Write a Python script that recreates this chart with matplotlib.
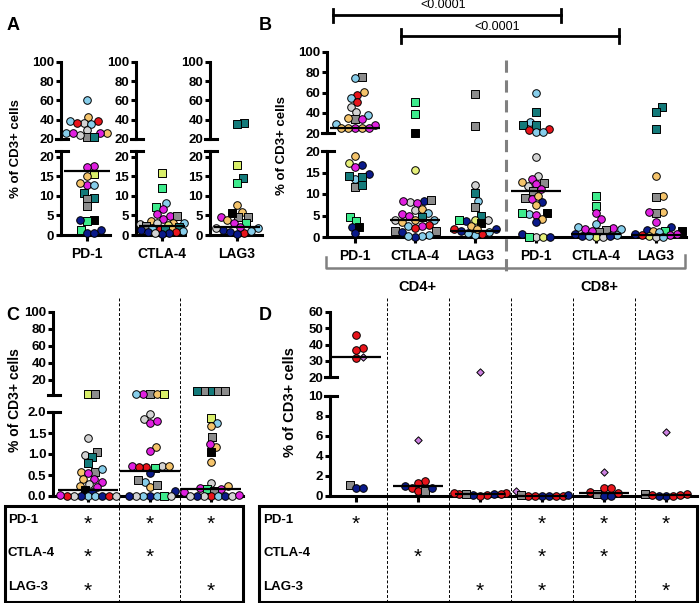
import numpy as np
import matplotlib.pyplot as plt
from matplotlib.lines import Line2D
from matplotlib.patches import Rectangle

plt.rcParams['font.family'] = ['Liberation Sans', 'DejaVu Sans']
plt.rcParams['font.weight'] = 'bold'

W, H = 700, 603

# donor codes -> (marker, face colour)
kind_style = {
    'lb': ('o', '#87CEEB'), 'r': ('o', '#E8141B'), 'm': ('o', '#E020E0'),
    'o': ('o', '#F5C46B'), 'lg': ('o', '#D3D3D3'), 'n': ('o', '#0A1A8A'),
    'y': ('o', '#E6F07A'), 'gs': ('s', '#8C8C8C'), 'ts': ('s', '#137A7A'),
    'es': ('s', '#3DEB8C'), 'ys': ('s', '#D9EF6A'), 'ks': ('s', '#000000'),
    'pd': ('D', '#CC80E0'),
}

markers_ab = ['PD-1', 'CTLA-4', 'LAG3']
table_rows = ['PD-1', 'CTLA-4', 'LAG-3']

# ---- panel A: % of CD3+ cells
a_pd1_val = [61, 43, 38.7, 38.7, 37, 35.6, 37, 26.5, 26.5, 29.4, 26, 22, 22, 24, 26,
             17.6, 17.3, 15.6, 15, 12.8, 13.3, 12.8, 10.8, 9.4, 9.2, 7.4, 3.8, 3.6, 3.8, 1.3, 1.3, 0.5, 0.5]
a_pd1_kind = ('lb o r lb lg lb r o lb lg m gs ts lg m '
              'm m ys o m o lb ts ts gs gs ks es n es n n n').split()
a_ctla4_val = [15.9, 12, 8.2, 7.2, 6.6, 5.4, 4.8, 4.8, 4.2, 3.5, 3.1, 3.0, 3.0, 2.8, 2.5, 2.3,
               2.0, 1.8, 1.6, 1.5, 1.3, 1.2, 1.0, 0.8, 0.5, 0.3, 0.8, 0.6]
a_ctla4_kind = ('ys es lb es m m m gs m o o lg lb lg y gs ts lb o r '
                'ts n lb r n n n lg').split()
a_lag3_val = [37, 36, 18, 14.5, 13.3, 7.6, 5.9, 4.7, 4.5, 5.7, 4.7, 3.8, 3.0, 3.0, 1.9, 1.3,
              0.8, 0.5, 1.9, 2.0, 0.3, 1.0]
a_lag3_kind = 'ts ts ys ts es o o gs gs ks m o m es lb n n r lg m n lb'.split()
a_medians = [16.5, 2.2, 2.0]

# ---- panel B: CD4+ then CD8+
b_cd4_pd1_val = [75.6, 74, 60.2, 57.5, 54.3, 50.3, 46, 40.7, 37.5, 33.8, 35, 33.8, 28.9, 28.2,
                 24.6, 24.6, 24.6, 24.6, 24.6,
                 18.8, 16.7, 17.1, 16.2, 14.7, 13.4, 14.2, 13.9, 11.7, 12, 4.6, 3.8, 2.4, 2.3, 0.9]
b_cd4_pd1_kind = ('gs lb o r lb r lg lg lb gs o m lb m m o o m o '
                  'o n y m n lb ts ts gs ts es es n ks n').split()
b_cd4_ctla4_val = [50.3, 38.8, 20.3, 15.6, 8.4, 8.2, 7.9, 8.5, 8.4, 6.3, 6.5, 5.5, 5.3, 4.7, 5.0,
                   4.0, 4.0, 4.0, 3.5, 2.8, 2.6, 2.5, 2.0, 1.4, 1.3, 1.1, 0.5, 0.2, 0.1, 0.3]
b_cd4_ctla4_kind = ('es es ks y n lg m gs m lg o lb m ts m o lb lg o r '
                    'lb m r gs gs n lb lb n lb').split()
b_cd4_lag3_val = [58.5, 26.9, 12.2, 10.3, 8.4, 6.9, 5.0, 4.0, 4.0, 3.3, 3.8, 4.0, 2.6, 1.8, 1.2,
                  1.8, 0.7, 0.5, 1.0, 1.5, 1.9]
b_cd4_lag3_kind = 'gs gs lg ts lb gs ts y lg ks n es o n lb r r lb lb n o'.split()
b_cd8_pd1_val = [59.2, 40.4, 30.9, 27.6, 27.6, 24.2, 23, 20.7, 20.7,
                 18.5, 14.3, 13.6, 12.6, 11.9, 12.3, 12.9, 11.1, 10.8, 9.1, 8.8, 9.6, 8.1, 7.4,
                 5.4, 5.5, 5.2, 5.5, 4.2, 3.5, 0.7, 0.1, 0.1, 0.1, 0.1]
b_cd8_pd1_kind = ('lb ts lb ts ts r r lb lb '
                  'lg lg m gs lg m o m gs gs m o n o lb ks m es o n n lg y es n').split()
b_cd8_ctla4_val = [9.6, 7.3, 5.5, 4.2, 3.1, 2.4, 2.0, 1.8, 1.7, 1.8, 1.2, 0.8, 1.5, 0.5, 0.3,
                   0.1, 0.1, 0.2, 0.2]
b_cd8_ctla4_kind = 'es es m m lb lb m m gs lb gs n m lb n y lg lb n'.split()
b_cd8_lag3_val = [45.4, 40.7, 23.6, 14.3, 9.6, 9.2, 5.9, 5.5, 5.9, 3.4, 2.3, 1.7, 1.3, 1.3, 1.2,
                  1.3, 0.7, 0.7, 0.5, 0.2, 0.1, 0.1, 0.5]
b_cd8_lag3_kind = 'ts ts ts o o gs o gs m m n n o es lb ks m n m y lg lb r'.split()
b_medians = [25, 3.9, 1.3, 10.8, 0.6, 0.4]

# ---- panel C: co-expression combinations
c1_val = [3.2, 3.2, 1.37, 1.04, 0.98, 0.92, 0.78, 0.58, 0.58, 0.54, 0.64, 0.40, 0.40, 0.34,
          0.29, 0.25, 0.22, 0.14, 0.10, 0, 0, 0, 0, 0, 0, 0, 0.02, 0]
c1_kind = ('ys gs lg gs lg ts ts gs o m lb o m m lg o m ks n lb '
           'lb n n lg r r m lg').split()
c2_val = [3.2, 3.2, 3.2, 3.2, 3.2, 1.83, 1.95, 1.73, 1.79, 1.17, 1.08, 0.72, 0.71, 0.69, 0.66,
          0.70, 0.72, 0.55, 0.34, 0.22, 0.26, 0.37, 0.13, 0, 0, 0, 0, 0, 0, 0]
c2_kind = ('gs o m ys lb lg lg m m o m m lg r es r o n lb o '
           'gs gs n n lb lb es lg lg n').split()
c3_val = [7, 7, 7, 7, 7, 1.85, 1.75, 1.67, 1.41, 1.17, 1.25, 1.05, 0.82, 0.30, 0.24, 0.18,
          0.16, 0.16, 0.13, 0.10, 0, 0, 0, 0, 0, 0, 0, 0.03]
c3_kind = ('ts gs gs gs ts ys lb o gs o m ks o lg o m es m gs m '
           'r lb lg n n lg lg m').split()
c_medians = [0.15, 0.6, 0.17]
c_stars = [[1, 1, 1], [1, 1, 0], [1, 0, 1]]

# ---- panel D
d1_val = [45.8, 37.8, 36.6, 32.3, 31.8, 1.1, 0.8, 0.8]
d1_kind = 'r r r pd r gs n n'.split()
d2_val = [5.6, 1.5, 1.3, 1.0, 0.77, 0.5, 0.5, 0.8]
d2_kind = 'pd r r n r r gs n'.split()
d3_val = [23, 0.3, 0.25, 0.2, 0.1, 0, 0.1, 0.2, 0.3, 0.2]
d3_kind = 'pd r r n r r n gs r r'.split()
d4_val = [0.5, 0, 0, 0, 0, 0, 0, 0.1, 0.1]
d4_kind = 'pd n n r r r r gs n'.split()
d5_val = [2.4, 0.8, 0.4, 0.8, 0.3, 0.2, 0, 0]
d5_kind = 'pd r r r r gs n n'.split()
d6_val = [6.4, 0.2, 0.2, 0, 0, 0, 0.1, 0.1]
d6_kind = 'pd r gs n r n r r'.split()
d_medians = [32.5, 1.0, 0.2, 0.05, 0.3, 0.1]
d_stars = [[1, 0, 0, 1, 1, 1], [0, 1, 0, 1, 1, 0], [0, 0, 1, 1, 0, 1]]

fig = plt.figure(figsize=(W / 100, H / 100), dpi=100)


def add_ax(x0, y0, x1, y1):
    return fig.add_axes([x0 / W, 1 - y1 / H, (x1 - x0) / W, (y1 - y0) / H])


def px_line(xs, ys, **kw):
    fig.add_artist(Line2D([x / W for x in xs], [1 - y / H for y in ys],
                          transform=fig.transFigure, **kw))


def px_text(x, y, s, **kw):
    fig.text(x / W, 1 - y / H, s, **kw)


def fig_x(ax, x):
    return fig.transFigure.inverted().transform(ax.transData.transform((x, 0)))[0] * W


def broken_axes(x0, x1, top_y, bot_y, top_lim, bot_lim, xlim, top_ticks, bot_ticks, fmt='{:g}'):
    ax_t = add_ax(x0, top_y[0], x1, top_y[1])
    ax_b = add_ax(x0, bot_y[0], x1, bot_y[1])
    for ax, lim, ticks in ((ax_t, top_lim, top_ticks), (ax_b, bot_lim, bot_ticks)):
        ax.set_xlim(*xlim)
        ax.set_ylim(*lim)
        ax.set_facecolor('none')
        ax.spines['top'].set_visible(False)
        ax.spines['right'].set_visible(False)
        ax.spines['left'].set_linewidth(2.2)
        ax.set_yticks(ticks)
        ax.set_yticklabels([fmt.format(t) for t in ticks])
        ax.tick_params(axis='y', direction='out', length=3.8, width=2.2, labelsize=9.5, pad=1)
    ax_t.spines['bottom'].set_visible(False)
    ax_t.set_xticks([])
    ax_b.spines['bottom'].set_linewidth(2.2)
    ax_b.tick_params(axis='x', direction='out', length=4.5, width=2.2, labelsize=10, pad=4)
    # caps at the axis break
    px_line([x0 - 5, x0 + 7], [top_y[1], top_y[1]], color='black', lw=2.2)
    px_line([x0 - 5, x0 + 7], [bot_y[0], bot_y[0]], color='black', lw=2.2)
    return ax_t, ax_b


def swarm(ax, xc, vals, d=7.0, maxw=24):
    x0, x1 = ax.get_xlim()
    y0, y1 = ax.get_ylim()
    sx = ax.bbox.width / (x1 - x0)
    sy = ax.bbox.height / (y1 - y0)
    ys = np.asarray(vals, float) * sy
    cands = [0.0]
    for k in np.arange(0.5, maxw + 0.01, 0.5):
        cands += [k, -k]
    placed = []
    xs = np.zeros(len(ys))
    for i in np.argsort(ys, kind='stable'):
        best, best_ov = 0.0, 1e9
        for c in cands:
            ov = max([d - np.hypot(c - px, ys[i] - py) for px, py in placed] + [0])
            if ov <= 0:
                best = c
                break
            if ov < best_ov - 0.3:
                best, best_ov = c, ov
        xs[i] = best
        placed.append((best, ys[i]))
    return xc + xs / sx


def plot_group(ax_t, ax_b, xc, vals, kinds, split, med, hw_px=24, maxw=24):
    vals = np.asarray(vals, float)
    kinds = np.asarray(kinds)
    for ax, sel in ((ax_t, vals >= split), (ax_b, vals < split)):
        if not sel.any():
            continue
        xs = swarm(ax, xc, vals[sel], maxw=maxw)
        for x, v, k in zip(xs, vals[sel], kinds[sel]):
            mk, col = kind_style[k]
            size = {'o': 30, 's': 26, 'D': 14}[mk]
            ax.scatter([x], [v], s=size, marker=mk, facecolor=col, edgecolor='black',
                       linewidths=0.7, zorder=3, clip_on=False)
    axm = ax_t if med >= split else ax_b
    sx = axm.bbox.width / (axm.get_xlim()[1] - axm.get_xlim()[0])
    hw = hw_px / sx
    axm.plot([xc - hw, xc + hw], [med, med], color='black', lw=1.6, zorder=4,
             solid_capstyle='butt', clip_on=False)


ylab = '% of CD3+ cells'

# ================= panel A =================
a_left = [61, 136, 210]
a_right = [110, 185, 262]
a_center = [87, 162, 237]
a_vals = [a_pd1_val, a_ctla4_val, a_lag3_val]
a_kinds = [a_pd1_kind, a_ctla4_kind, a_lag3_kind]
for i in range(3):
    l, r, c = a_left[i], a_right[i], a_center[i]
    at, ab = broken_axes(l, r, (62, 139), (151, 235), (20, 100), (0, 21.5),
                         (l - c, r - c), [20, 40, 60, 80, 100], [0, 5, 10, 15, 20])
    ab.set_xticks([0])
    ab.set_xticklabels([markers_ab[i]])
    plot_group(at, ab, 0, a_vals[i], a_kinds[i], 20, a_medians[i], hw_px=23, maxw=22)
px_text(16, 149, ylab, rotation=90, ha='center', va='center', fontsize=9.5)
px_text(13, 25, 'A', ha='center', va='center', fontsize=13)

# ================= panel B =================
b_step = 60.2
bt, bb = broken_axes(327, 686, (52, 133), (151, 237), (20, 100), (0, 20),
                     ((327 - 355) / b_step, (686 - 355) / b_step),
                     [20, 40, 60, 80, 100], [0, 5, 10, 15, 20])
bb.set_xticks(range(6))
bb.set_xticklabels(markers_ab * 2)
b_vals = [b_cd4_pd1_val, b_cd4_ctla4_val, b_cd4_lag3_val, b_cd8_pd1_val, b_cd8_ctla4_val, b_cd8_lag3_val]
b_kinds = [b_cd4_pd1_kind, b_cd4_ctla4_kind, b_cd4_lag3_kind, b_cd8_pd1_kind, b_cd8_ctla4_kind,
           b_cd8_lag3_kind]
for i in range(6):
    plot_group(bt, bb, i, b_vals[i], b_kinds[i], 20, b_medians[i], hw_px=25, maxw=26)
px_text(282, 146, ylab, rotation=90, ha='center', va='center', fontsize=9.5)
px_text(265, 25, 'B', ha='center', va='center', fontsize=13)

# CD4 / CD8 separator and brackets
sep_x = fig_x(bb, 2.5)
px_line([sep_x, sep_x], [60, 272], color='#808080', lw=2.2, dashes=(4, 2.5), zorder=-1)
px_line([326, 326, 685, 685], [257, 268, 268, 255], color='#808080', lw=1.8)
px_text(417, 287, 'CD4+', ha='center', va='center', fontsize=10.5)
px_text(599, 287, 'CD8+', ha='center', va='center', fontsize=10.5)

# significance bars
px_line([333, 561], [15, 15], color='black', lw=2.0)
px_line([333, 333], [9, 22], color='black', lw=2.0)
px_line([561, 561], [9, 22], color='black', lw=2.0)
px_text(443, 5, '<0.0001', ha='center', va='center', fontsize=9, fontweight='normal')
px_line([401, 619], [36, 36], color='black', lw=2.0)
px_line([401, 401], [29, 43], color='black', lw=2.0)
px_line([619, 619], [29, 43], color='black', lw=2.0)
px_text(497, 27, '<0.0001', ha='center', va='center', fontsize=9, fontweight='normal')

# ================= panel C =================
c_step = 61.5
ct, cb = broken_axes(53, 243, (312, 395), (412, 496), (2.35, 100), (0, 2.0),
                     ((53 - 88) / c_step, (243 - 88) / c_step),
                     [20, 40, 60, 80, 100], [0, 0.5, 1.0, 1.5, 2.0], fmt='{:g}')
cb.set_yticklabels(['{:.1f}'.format(t) for t in [0, 0.5, 1.0, 1.5, 2.0]])
cb.set_xticks(range(3))
cb.set_xticklabels([])
c_vals = [c1_val, c2_val, c3_val]
c_kinds = [c1_kind, c2_kind, c3_kind]
for i in range(3):
    plot_group(ct, cb, i, c_vals[i], c_kinds[i], 2.0, c_medians[i], hw_px=30, maxw=28)
for i in range(2):
    fx = fig_x(cb, i + 0.5)
    px_line([fx, fx], [298, 602], color='black', lw=0.7, dashes=(3, 2), zorder=-1)
px_text(15, 400, ylab, rotation=90, ha='center', va='center', fontsize=10)
px_text(13, 315, 'C', ha='center', va='center', fontsize=13)
fig.add_artist(Rectangle((5 / W, 1 - 602 / H), 238 / W, 96 / H, transform=fig.transFigure,
                         fill=False, lw=2.2, edgecolor='black'))
row_y = [520, 553, 587]
for r in range(3):
    px_text(8, row_y[r], table_rows[r], ha='left', va='center', fontsize=9.5)
    for i in range(3):
        if c_stars[r][i]:
            px_text(fig_x(cb, i), row_y[r] + 4, '*', ha='center', va='center', fontsize=15,
                    fontweight='normal')

# ================= panel D =================
d_step = 62
dt, db = broken_axes(330, 697, (312, 377), (396, 496), (20, 60), (0, 10),
                     ((330 - 356) / d_step, (697 - 356) / d_step),
                     [20, 30, 40, 50, 60], [0, 2, 4, 6, 8, 10])
db.set_xticks(range(6))
db.set_xticklabels([])
d_vals = [d1_val, d2_val, d3_val, d4_val, d5_val, d6_val]
d_kinds = [d1_kind, d2_kind, d3_kind, d4_kind, d5_kind, d6_kind]
for i in range(6):
    plot_group(dt, db, i, d_vals[i], d_kinds[i], 10, d_medians[i], hw_px=25, maxw=26)
for i in range(5):
    fx = fig_x(db, i + 0.5)
    px_line([fx, fx], [298, 602], color='black', lw=0.7, dashes=(3, 2), zorder=-1)
px_text(290, 402, ylab, rotation=90, ha='center', va='center', fontsize=10.5)
px_text(265, 315, 'D', ha='center', va='center', fontsize=13)
fig.add_artist(Rectangle((259 / W, 1 - 602 / H), 438 / W, 96 / H, transform=fig.transFigure,
                         fill=False, lw=2.2, edgecolor='black'))
for r in range(3):
    px_text(263, row_y[r], table_rows[r], ha='left', va='center', fontsize=9.5)
    for i in range(6):
        if d_stars[r][i]:
            px_text(fig_x(db, i), row_y[r] + 4, '*', ha='center', va='center', fontsize=15,
                    fontweight='normal')

fig.savefig('out.png', dpi=100)
